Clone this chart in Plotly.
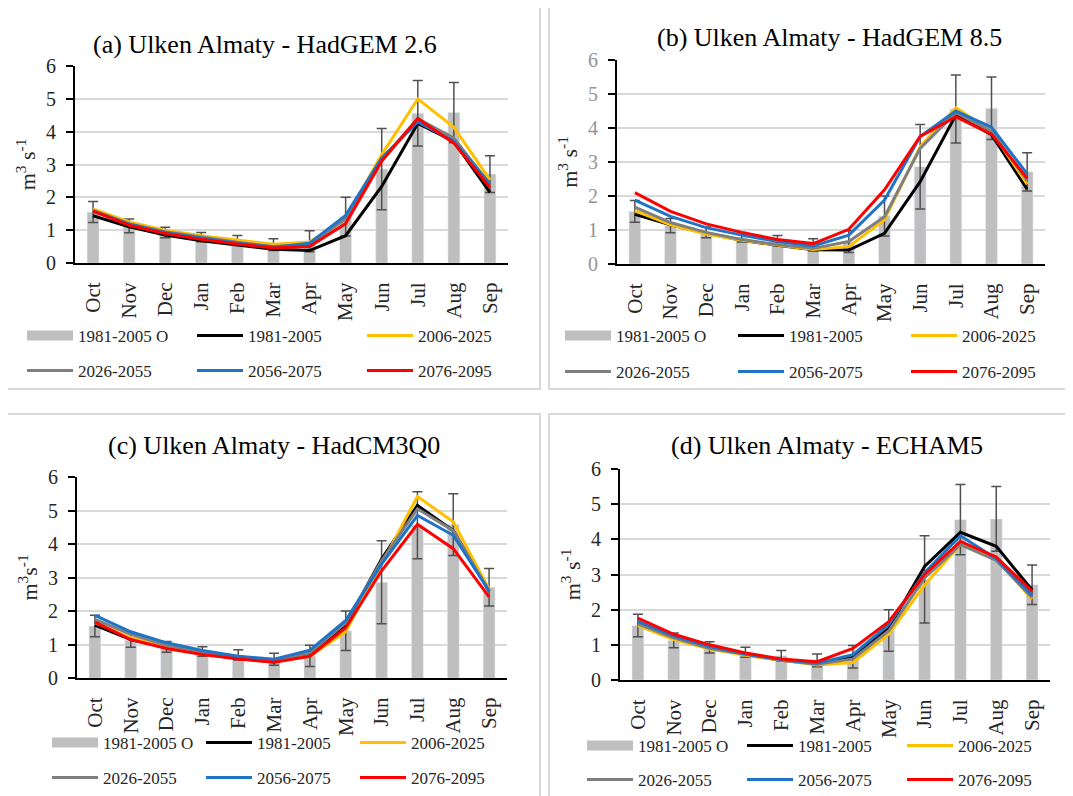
import plotly.graph_objects as go

months = ['Oct', 'Nov', 'Dec', 'Jan', 'Feb', 'Mar', 'Apr', 'May', 'Jun', 'Jul', 'Aug', 'Sep']

# observed 1981-2005 mean flow and its spread
obs = [1.55, 1.13, 0.93, 0.79, 0.69, 0.56, 0.66, 1.41, 2.86, 4.56, 4.58, 2.71]
obs_err = [0.32, 0.21, 0.16, 0.14, 0.15, 0.18, 0.32, 0.59, 1.24, 1.0, 0.92, 0.56]

periods = ['1981-2005', '2006-2025', '2026-2055', '2056-2075', '2076-2095']
colors = ['#000000', '#FFC000', '#7F7F7F', '#1F74C8', '#FF0000']

# (a) HadGEM 2.6
a_1981 = [1.44, 1.1, 0.85, 0.68, 0.55, 0.42, 0.38, 0.83, 2.33, 4.25, 3.7, 2.15]
a_2006 = [1.65, 1.25, 1.0, 0.83, 0.7, 0.57, 0.64, 1.35, 3.3, 5.0, 4.13, 2.53]
a_2026 = [1.6, 1.2, 0.95, 0.78, 0.63, 0.5, 0.55, 1.35, 3.15, 4.4, 3.8, 2.4]
a_2056 = [1.58, 1.18, 0.92, 0.75, 0.6, 0.48, 0.6, 1.45, 3.2, 4.3, 3.7, 2.4]
a_2076 = [1.58, 1.15, 0.9, 0.72, 0.58, 0.46, 0.5, 1.2, 3.1, 4.4, 3.65, 2.3]

# (b) HadGEM 8.5
b_1981 = [1.46, 1.15, 0.9, 0.7, 0.55, 0.42, 0.41, 0.9, 2.42, 4.38, 3.8, 2.2]
b_2006 = [1.57, 1.15, 0.88, 0.7, 0.56, 0.43, 0.51, 1.3, 3.45, 4.6, 3.9, 2.35]
b_2026 = [1.67, 1.22, 0.93, 0.72, 0.57, 0.46, 0.66, 1.39, 3.4, 4.45, 3.9, 2.45]
b_2056 = [1.88, 1.4, 1.07, 0.85, 0.66, 0.53, 0.85, 1.88, 3.75, 4.5, 4.02, 2.65]
b_2076 = [2.1, 1.55, 1.18, 0.93, 0.72, 0.6, 1.02, 2.18, 3.75, 4.33, 3.82, 2.52]

# (c) HadCM3Q0
c_1981 = [1.58, 1.15, 0.9, 0.72, 0.58, 0.48, 0.68, 1.6, 3.55, 5.15, 4.4, 2.6]
c_2006 = [1.65, 1.2, 0.93, 0.75, 0.6, 0.5, 0.65, 1.39, 3.4, 5.42, 4.66, 2.65]
c_2026 = [1.75, 1.3, 0.98, 0.78, 0.62, 0.52, 0.75, 1.65, 3.5, 5.05, 4.4, 2.6]
c_2056 = [1.87, 1.38, 1.05, 0.82, 0.65, 0.56, 0.83, 1.72, 3.4, 4.85, 4.26, 2.6]
c_2076 = [1.67, 1.15, 0.88, 0.7, 0.57, 0.47, 0.65, 1.5, 3.2, 4.59, 3.86, 2.42]

# (d) ECHAM5
d_1981 = [1.62, 1.2, 0.92, 0.72, 0.56, 0.46, 0.65, 1.47, 3.23, 4.2, 3.8, 2.56]
d_2006 = [1.55, 1.15, 0.88, 0.7, 0.56, 0.43, 0.5, 1.3, 2.7, 3.85, 3.45, 2.3]
d_2026 = [1.6, 1.2, 0.9, 0.72, 0.56, 0.45, 0.6, 1.4, 2.9, 3.85, 3.4, 2.35]
d_2056 = [1.67, 1.25, 0.95, 0.74, 0.58, 0.48, 0.72, 1.58, 3.05, 4.1, 3.45, 2.4]
d_2076 = [1.76, 1.3, 1.0, 0.77, 0.6, 0.52, 0.9, 1.66, 3.0, 3.94, 3.5, 2.52]

W, H = 1073, 796
OFF = 8  # the page body margin shifts the figure by 8 px
FONT = 'Liberation Serif'


def px(x):
    return (x - OFF) / W


def py(y):
    return 1 - (y - OFF) / H


panels = [
    dict(title='(a) Ulken Almaty - HadGEM 2.6', ytitle='m<sup>3</sup> s<sup>-1</sup>',
         series=[a_1981, a_2006, a_2026, a_2056, a_2076],
         plot=(75, 508, 66, 263), title_xy=(265, 45), box=(7, 540, 6, 389),
         leg=(29, 170, 336, 371), tickcol='#262626'),
    dict(title='(b) Ulken Almaty - HadGEM 8.5', ytitle='m<sup>3</sup> s<sup>-1</sup>',
         series=[b_1981, b_2006, b_2026, b_2056, b_2076],
         plot=(617, 1045, 60, 264), title_xy=(829, 37), box=(549, 1090, 6, 389),
         leg=(567, 173, 336, 372), tickcol='#959595'),
    dict(title='(c) Ulken Almaty - HadCM3Q0', ytitle='m<sup>3</sup>s<sup>-1</sup>',
         series=[c_1981, c_2006, c_2026, c_2056, c_2076],
         plot=(77, 507, 477, 678), title_xy=(274, 445), box=(7, 540, 414, 820),
         leg=(54, 154, 743, 778), tickcol='#262626'),
    dict(title='(d) Ulken Almaty - ECHAM5', ytitle='m<sup>3</sup> s<sup>-1</sup>',
         series=[d_1981, d_2006, d_2026, d_2056, d_2076],
         plot=(620, 1050, 469, 680), title_xy=(827, 445), box=(549, 1090, 414, 820),
         leg=(589, 160, 746, 780), tickcol='#262626'),
]

fig = go.Figure()
layout = dict(width=W, height=H, margin=dict(l=0, r=0, t=0, b=0, autoexpand=False),
              plot_bgcolor='white', paper_bgcolor='white',
              font=dict(family=FONT, size=19, color='#262626'),
              barmode='overlay', shapes=[], annotations=[])

for i, p in enumerate(panels):
    sfx = '' if i == 0 else str(i + 1)
    leg1 = 'legend' if i == 0 else 'legend' + str(2 * i + 1)
    leg2 = 'legend' + str(2 * i + 2)
    x0, x1, ytop, ybot = p['plot']

    # observed bars; their legend entry is a wide grey swatch like the original
    fig.add_trace(go.Bar(
        x=months, y=obs, name='1981-2005 O', marker_color='#BFBFBF', width=0.33,
        error_y=dict(type='data', array=obs_err, color='#505050', thickness=1.5, width=5),
        xaxis='x' + sfx, yaxis='y' + sfx, showlegend=False))
    fig.add_trace(go.Scatter(
        x=[None], y=[None], name='1981-2005 O', mode='lines',
        line=dict(color='#BFBFBF', width=10),
        xaxis='x' + sfx, yaxis='y' + sfx, legend=leg1))
    for k, (per, col, vals) in enumerate(zip(periods, colors, p['series'])):
        fig.add_trace(go.Scatter(
            x=months, y=vals, name=per, mode='lines', line=dict(color=col, width=3),
            xaxis='x' + sfx, yaxis='y' + sfx, legend=leg1 if k < 2 else leg2))

    layout['xaxis' + sfx] = dict(
        domain=[px(x0), px(x1)], anchor='y' + sfx, type='category', automargin=False,
        range=[-0.5, 11.5], tickangle=-90, showline=True, linecolor='#000000',
        linewidth=2, ticks='', showgrid=False, ticklabelstandoff=9,
        tickfont=dict(size=21, color='#262626'))
    layout['yaxis' + sfx] = dict(
        domain=[py(ybot), py(ytop)], anchor='x' + sfx, range=[0, 6], dtick=1,
        automargin=False,
        showline=True, linecolor='#000000', linewidth=2, ticks='outside', ticklen=7,
        tickwidth=2, tickcolor='#000000', gridcolor='#D9D9D9', gridwidth=1.5,
        zeroline=False, ticklabelstandoff=6,
        tickfont=dict(size=20, color=p['tickcol']),
        title=dict(text=p['ytitle'], font=dict(size=22, color='#262626'), standoff=4))

    lx, pitch, r1, r2 = p['leg']
    for name, ry in ((leg1, r1), (leg2, r2)):
        layout[name] = dict(
            orientation='h', x=px(lx - 7), xanchor='left', y=py(ry), yanchor='middle',
            bgcolor='rgba(0,0,0,0)', itemwidth=46, entrywidth=pitch - 61,
            font=dict(family=FONT, size=17, color='#262626'), tracegroupgap=0)

    bx0, bx1, by0, by1 = p['box']
    layout['shapes'].append(dict(
        type='rect', xref='paper', yref='paper', x0=px(bx0), x1=px(bx1),
        y0=py(by1), y1=py(by0), line=dict(color='#D9D9D9', width=2),
        fillcolor='rgba(0,0,0,0)', layer='below'))
    tx, ty = p['title_xy']
    layout['annotations'].append(dict(
        text=p['title'], xref='paper', yref='paper', x=px(tx), y=py(ty),
        xanchor='center', yanchor='middle', showarrow=False,
        font=dict(family=FONT, size=26, color='#000000')))

fig.update_layout(**layout)
fig.write_html('out.html')
